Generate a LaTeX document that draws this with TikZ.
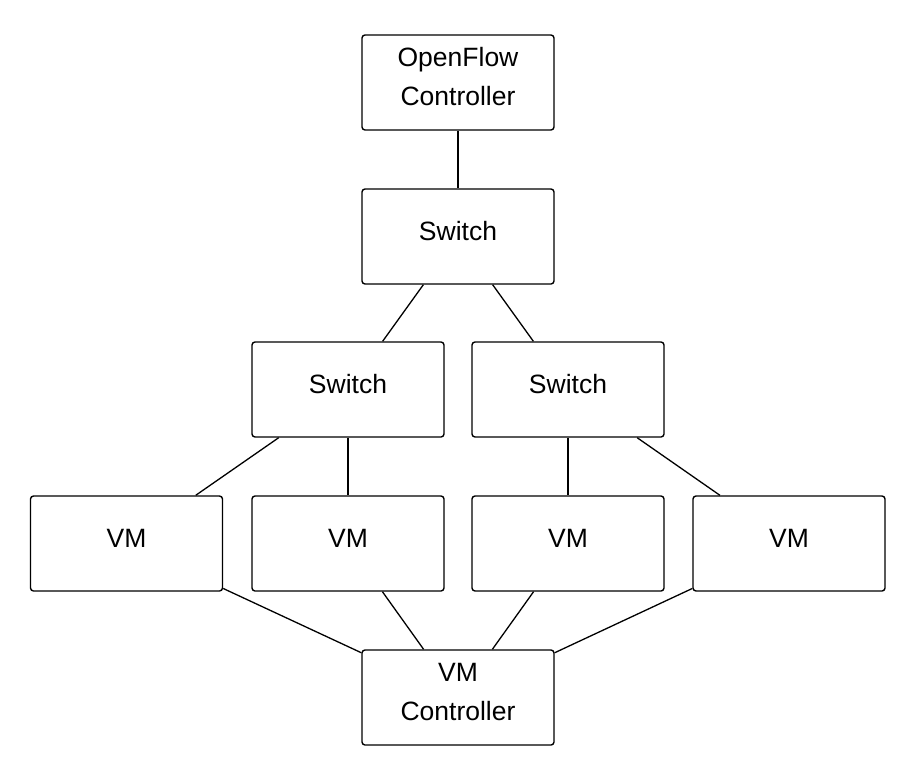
\documentclass[tikz,border=0pt]{standalone}
\usepackage{fontspec}
\setmainfont{Liberation Sans}
\begin{document}
\begin{tikzpicture}[x=1pt,y=-1pt,
  txt/.style={inner sep=0pt, align=center, font=\fontsize{26.5}{39}\selectfont, yshift=5.5pt},
  box/.style={draw, line width=1.4pt, rounded corners=3pt, minimum width=192pt, minimum height=95pt,
    inner sep=0pt, fill=white, label={[txt]center:#1}},
  link/.style={line width=1.3pt}]
\useasboundingbox (0,0) rectangle (914,772);
\node[box={OpenFlow\\Controller}] (ofc) at (458,82.5) {};
\node[box=Switch] (s0) at (458,236.5) {};
\node[box=Switch] (s1) at (348,389.5) {};
\node[box=Switch] (s2) at (568,389.5) {};
\node[box=VM] (vm1) at (126.5,543.5) {};
\node[box=VM] (vm2) at (348,543.5) {};
\node[box=VM] (vm3) at (568,543.5) {};
\node[box=VM] (vm4) at (789,543.5) {};
\node[box={VM\\Controller}] (vmc) at (458,697.5) {};
\draw[link] (ofc) -- (s0);
\draw[link] (s0) -- (s1);
\draw[link] (s0) -- (s2);
\draw[link] (s1) -- (vm1);
\draw[link] (s1) -- (vm2);
\draw[link] (s2) -- (vm3);
\draw[link] (s2) -- (vm4);
\draw[link] (vm1) -- (vmc);
\draw[link] (vm2) -- (vmc);
\draw[link] (vm3) -- (vmc);
\draw[link] (vm4) -- (vmc);
\end{tikzpicture}
\end{document}
